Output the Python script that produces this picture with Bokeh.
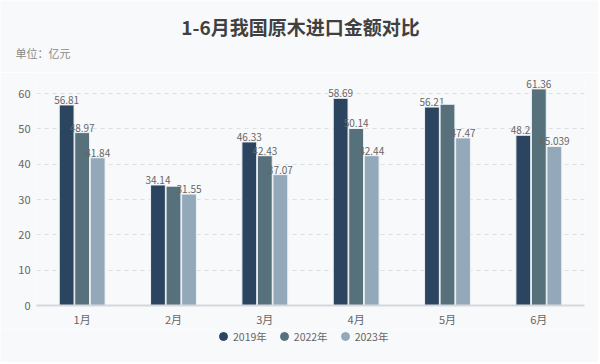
from bokeh.plotting import figure
from bokeh.models import ColumnDataSource, FactorRange, Range1d, Label, Legend, LegendItem, FixedTicker
from bokeh.layouts import column
from bokeh.transform import dodge
from bokeh.core.properties import value
from bokeh.embed import file_html
from bokeh.resources import INLINE

months = ["1月", "2月", "3月", "4月", "5月", "6月"]
v2019 = [56.81, 34.14, 46.33, 58.69, 56.21, 48.22]
v2022 = [48.97, 33.8, 42.43, 50.14, 57.0, 61.36]
v2023 = [41.84, 31.55, 37.07, 42.44, 47.47, 45.039]
lab2019 = ["56.81", "34.14", "46.33", "58.69", "56.21", "48.22"]
lab2022 = ["48.97", "", "42.43", "50.14", "", "61.36"]
lab2023 = ["41.84", "31.55", "37.07", "42.44", "47.47", "45.039"]
series = ["2019年", "2022年", "2023年"]
colors = ["#2b4460", "#56707c", "#93a9ba"]
yticks = [0, 10, 20, 30, 40, 50, 60]
title_text = "1-6月我国原木进口金额对比"
unit_text = "单位：亿元"

FONT = "Noto Sans CJK SC"
BG = "#f8f9fb"
W = 598


def strip(h):
    f = figure(width=W, height=h, output_backend="svg", toolbar_location=None,
               x_range=Range1d(0, 1), y_range=Range1d(0, 1),
               x_axis_type=None, y_axis_type=None, frame_align=False,
               min_border_left=0, min_border_right=0, min_border_top=0, min_border_bottom=0)
    f.grid.visible = False
    f.outline_line_color = None
    f.background_fill_color = BG
    f.border_fill_color = BG
    return f


# title strip
top = strip(72)
top.add_layout(Label(x=300, y=72 - 25.5, x_units="screen", y_units="screen", text=title_text,
                     text_font=FONT, text_font_size="19px", text_font_style="bold",
                     text_color="#404040", text_align="center", text_baseline="middle"))
top.add_layout(Label(x=15, y=72 - 52, x_units="screen", y_units="screen", text=unit_text,
                     text_font=FONT, text_font_size="11px", text_color="#888888",
                     text_align="left", text_baseline="middle"))

# main chart
src = ColumnDataSource(dict(m=months, a=v2019, b=v2022, c=v2023,
                            la=lab2019, lb=lab2022, lc=lab2023))

p = figure(width=W, height=257, x_range=FactorRange(*months, range_padding=0),
           y_range=Range1d(0, 66), output_backend="svg", toolbar_location=None,
           min_border_left=36, min_border_right=14, min_border_top=0, min_border_bottom=24)
p.background_fill_color = BG
p.border_fill_color = BG
p.outline_line_color = None

bw = 0.162
offs = [-0.17, 0.0, 0.17]
for col, lab, off, c in zip(["a", "b", "c"], ["la", "lb", "lc"], offs, colors):
    p.vbar(x=dodge("m", off, range=p.x_range), top=col, width=bw, source=src,
           fill_color=c, line_color="#eef1f4", line_width=1)
    p.text(x=dodge("m", off, range=p.x_range), y=col, text=lab, source=src,
           text_align="center", text_baseline="bottom", y_offset=-1,
           text_font=value(FONT), text_font_size="10px", text_color="#666666")

p.yaxis.ticker = FixedTicker(ticks=yticks)
p.yaxis.axis_line_color = None
p.yaxis.major_tick_line_color = None
p.yaxis.minor_tick_line_color = None
p.yaxis.major_tick_out = 0
p.yaxis.major_label_standoff = 6
p.yaxis.major_label_text_font = FONT
p.yaxis.major_label_text_font_size = "11px"
p.yaxis.major_label_text_color = "#666666"

p.xaxis.axis_line_color = "#d4d7dc"
p.xaxis.axis_line_width = 2
p.xaxis.major_tick_line_color = None
p.xaxis.minor_tick_line_color = None
p.xaxis.major_tick_out = 0
p.xaxis.major_label_standoff = 5
p.xaxis.major_label_text_font = FONT
p.xaxis.major_label_text_font_size = "11px"
p.xaxis.major_label_text_color = "#666666"

p.xgrid.grid_line_color = None
p.ygrid.ticker = FixedTicker(ticks=yticks[1:])
p.ygrid.grid_line_color = "#dcdfe3"
p.ygrid.grid_line_dash = "4 4"

# legend strip (legend swatches need one off-screen point each)
lg = strip(33)
items = []
for s, c in zip(series, colors):
    r = lg.scatter(x=[-5], y=[-5], marker="circle", size=10, fill_color=c, line_color=c)
    items.append(LegendItem(label=s, renderers=[r]))
leg = Legend(items=items, orientation="horizontal", location=(213, 16),
             background_fill_alpha=0, border_line_color=None, padding=0, margin=0,
             glyph_width=20, glyph_height=20, label_standoff=0, spacing=7,
             label_text_font=FONT, label_text_font_size="10.5px",
             label_text_color="#666666", label_height=12)
lg.add_layout(leg)

open("out.html", "w").write(file_html(column(top, p, lg, spacing=0), INLINE))
